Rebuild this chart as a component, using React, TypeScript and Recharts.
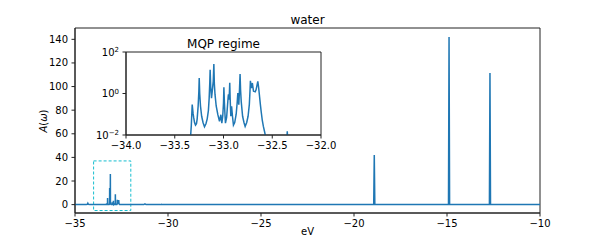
import React from 'react';
import { LineChart, Line, XAxis, YAxis, ReferenceArea } from 'recharts';

// ---- data ----
// weak features left of the MQP window
const tailEnergy = [-35, -34.4, -34.34, -34.31, -34.28, -34.2, -33.6, -33.4];
const tailA = [0.001, 0.002, 0.3, 1.2, 0.3, 0.001, 0.001, 0.001];

// multi-quasiparticle (MQP) regime
const mqpEnergy = [
  -33.342, -33.33, -33.321, -33.312, -33.306, -33.297, -33.287, -33.277, -33.27, -33.26, -33.253,
  -33.249, -33.244, -33.236, -33.224, -33.21, -33.195, -33.18, -33.167, -33.155, -33.147, -33.141,
  -33.137, -33.131, -33.123, -33.114, -33.105, -33.099, -33.094, -33.087, -33.075, -33.058, -33.041,
  -33.027, -33.017, -33.008, -33.0, -32.996, -32.991, -32.985, -32.98, -32.968, -32.958, -32.952,
  -32.949, -32.944, -32.939, -32.936, -32.932, -32.925, -32.917, -32.908, -32.898, -32.885, -32.87,
  -32.86, -32.853, -32.847, -32.843, -32.836, -32.83, -32.825, -32.818, -32.804, -32.79, -32.778,
  -32.762, -32.748, -32.735, -32.728, -32.724, -32.719, -32.714, -32.708, -32.704, -32.698, -32.692,
  -32.686, -32.675, -32.666, -32.657, -32.648, -32.64, -32.632, -32.622, -32.614, -32.602, -32.591,
  -32.578, -32.568, -32.55,
];
const mqpA = [
  0.004, 0.03, 0.29, 0.11, 0.07, 0.04, 0.03, 0.035, 0.06, 0.25, 1.2,
  5.6, 1.0, 0.25, 0.08, 0.04, 0.025, 0.035, 0.06, 0.15, 0.6, 3,
  14, 2.0, 0.6, 1.5, 4, 26, 3.0, 0.9, 0.25, 0.095, 0.046,
  0.095, 0.037, 0.08, 0.35, 2.0, 0.4, 0.1, 0.037, 0.07, 0.3, 0.7,
  0.9, 0.5, 1.2, 3.3, 0.6, 0.08, 0.24, 0.08, 0.03, 0.04, 0.1,
  0.35, 1.05, 0.45, 0.29, 1.5, 8.7, 1.5, 0.4, 0.08, 0.04, 0.026,
  0.04, 0.08, 0.3, 1.4, 4.1, 2.4, 1.8, 2.6, 3.2, 2.0, 1.3,
  1.26, 1.2, 1.5, 2.4, 3.8, 2.0, 0.87, 0.3, 0.14, 0.05, 0.026,
  0.014, 0.008, 0.001,
];

// isolated weak lines and the main quasiparticle peaks
const peakEnergy = [
  -32.4, -32.352, -32.346, -32.34, -32.3,
  -31.3, -31.24, -31.18, -30.4, -30.34, -30.28,
  -18.94, -18.91, -18.88, -14.92, -14.89, -14.86, -12.72, -12.69, -12.66, -10,
];
const peakA = [
  0.001, 0.004, 0.015, 0.004, 0.001,
  0.001, 0.6, 0.001, 0.001, 0.3, 0.001,
  0.001, 42, 0.001, 0.001, 142, 0.001, 0.001, 111.5, 0.001, 0.001,
];

const mainXTicks = [-35, -30, -25, -20, -15, -10];
const mainYTicks = [0, 20, 40, 60, 80, 100, 120, 140];
const insetXTicks = [-34, -33.5, -33, -32.5, -32];
const insetYTicks = [0.01, 1, 100];
const mainXDomain = [-35, -10];
const mainYDomain = [-7.1, 149.6];
const insetXDomain = [-34, -32];
const insetYDomain = [0.01, 100];
const zoomBoxX = [-34, -32];
const zoomBoxY = [-5, 37];

const energy = [...tailEnergy, ...mqpEnergy, ...peakEnergy];
const spectral = [...tailA, ...mqpA, ...peakA];
const data = energy.map((e, i) => ({ e, a: spectral[i] }));
// the inset only needs the points near its energy window
const insetData = data.filter((d) => d.e >= -34.2 && d.e <= -31.3);

// ---- styling ----
const FONT = '"DejaVu Sans", sans-serif';
const BLUE = '#1f77b4';
const SPINE = '#222';
const tickStyle = { fill: '#000', fontSize: 10, fontFamily: FONT };

const fmt = (digits: number) => (v: number) =>
  (v < 0 ? '\u2212' : '') + Math.abs(v).toFixed(digits);

const LogTick = (props: any) => {
  const { x, y, payload } = props;
  const exp = Math.round(Math.log10(payload.value));
  return (
    <text x={x} y={y} textAnchor="end" dy="0.355em" fontSize={10} fontFamily={FONT} fill="#000">
      <tspan>10</tspan>
      <tspan dy="-0.45em" fontSize={7}>
        {(exp < 0 ? '\u2212' : '') + Math.abs(exp)}
      </tspan>
    </text>
  );
};

export default function App() {
  return (
    <div
      style={{
        position: 'absolute',
        left: 0,
        top: 0,
        width: 600,
        height: 240,
        background: '#fff',
        fontFamily: FONT,
      }}
    >
      <LineChart width={600} height={240} data={data} margin={{ top: 28, right: 60, left: 0, bottom: 0 }}>
        <XAxis
          dataKey="e"
          type="number"
          domain={mainXDomain}
          ticks={mainXTicks}
          tickFormatter={fmt(0)}
          height={27}
          tickSize={3.5}
          tickMargin={3}
          tick={tickStyle}
          axisLine={{ stroke: SPINE }}
          tickLine={{ stroke: SPINE }}
        />
        <YAxis
          type="number"
          domain={mainYDomain}
          ticks={mainYTicks}
          width={75}
          tickSize={3.5}
          tickMargin={3.5}
          tick={tickStyle}
          axisLine={{ stroke: SPINE }}
          tickLine={{ stroke: SPINE }}
        />
        <ReferenceArea
          x1={zoomBoxX[0]}
          x2={zoomBoxX[1]}
          y1={zoomBoxY[0]}
          y2={zoomBoxY[1]}
          fill="none"
          fillOpacity={0}
          stroke="#17becf"
          strokeWidth={1}
          strokeDasharray="3 2"
        />
        <Line
          type="linear"
          dataKey="a"
          stroke={BLUE}
          strokeWidth={1.5}
          dot={false}
          activeDot={false}
          isAnimationActive={false}
        />
        <ReferenceArea
          x1={mainXDomain[0]}
          x2={mainXDomain[1]}
          y1={mainYDomain[0]}
          y2={mainYDomain[1]}
          ifOverflow="visible"
          fill="none"
          fillOpacity={0}
          stroke={SPINE}
          strokeWidth={1}
        />
      </LineChart>

      {/* inset */}
      <div style={{ position: 'absolute', left: 85, top: 30, width: 270, height: 125 }}>
        <LineChart width={270} height={125} data={insetData} margin={{ top: 22, right: 34, left: 0, bottom: 0 }}>
          <XAxis
            dataKey="e"
            type="number"
            domain={insetXDomain}
            ticks={insetXTicks}
            allowDataOverflow
            tickFormatter={fmt(1)}
            height={20}
            tickSize={3.5}
            tickMargin={3}
            tick={tickStyle}
            axisLine={{ stroke: SPINE }}
            tickLine={{ stroke: SPINE }}
          />
          <YAxis
            type="number"
            scale="log"
            domain={insetYDomain}
            ticks={insetYTicks}
            allowDataOverflow
            width={41}
            tickSize={3.5}
            tickMargin={3.5}
            tick={<LogTick />}
            axisLine={{ stroke: SPINE }}
            tickLine={{ stroke: SPINE }}
          />
          <Line
            type="linear"
            dataKey="a"
            stroke={BLUE}
            strokeWidth={1.5}
            dot={false}
            activeDot={false}
            isAnimationActive={false}
          />
          <ReferenceArea
            x1={insetXDomain[0]}
            x2={insetXDomain[1]}
            y1={insetYDomain[0]}
            y2={insetYDomain[1]}
            ifOverflow="visible"
            fill="none"
            fillOpacity={0}
            stroke={SPINE}
            strokeWidth={1}
          />
        </LineChart>
      </div>

      {/* texts */}
      <div
        style={{
          position: 'absolute',
          left: 75,
          width: 465,
          top: 12,
          height: 16,
          lineHeight: '16px',
          textAlign: 'center',
          fontSize: 12,
          color: '#000',
        }}
      >
        water
      </div>
      <div
        style={{
          position: 'absolute',
          left: 126,
          width: 195,
          top: 36,
          height: 16,
          lineHeight: '16px',
          textAlign: 'center',
          fontSize: 12,
          color: '#000',
        }}
      >
        MQP regime
      </div>
      <div
        style={{
          position: 'absolute',
          left: 75,
          width: 465,
          top: 225,
          height: 14,
          lineHeight: '14px',
          textAlign: 'center',
          fontSize: 10,
          color: '#000',
        }}
      >
        eV
      </div>
      <div
        style={{
          position: 'absolute',
          left: 44,
          top: 120.5,
          transform: 'translate(-50%, -50%) rotate(-90deg)',
          whiteSpace: 'nowrap',
          fontSize: 10,
          lineHeight: '12px',
          color: '#000',
        }}
      >
        <i>A</i>(<i>ω</i>)
      </div>
    </div>
  );
}
